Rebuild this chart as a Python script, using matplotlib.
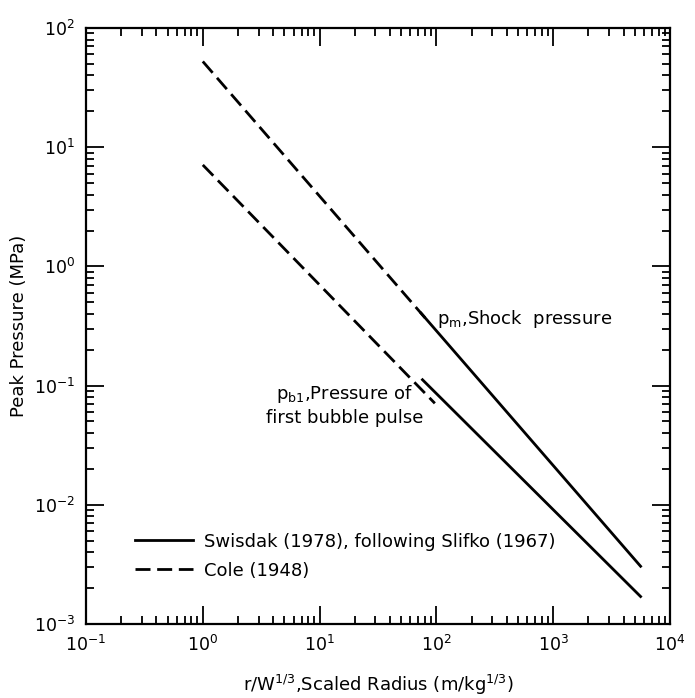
import matplotlib
matplotlib.use("Agg")
import matplotlib.pyplot as plt
from matplotlib.ticker import LogLocator, NullFormatter

plt.rcParams['font.family'] = ['DejaVu Sans']
plt.rcParams['axes.unicode_minus'] = False

# scaled radius r/W^(1/3) [m/kg^(1/3)] and peak pressure [MPa]
shock_cole_r = [1.0, 80.0]
shock_cole_p = [52.4, 0.37]
shock_swisdak_r = [74.0, 5600.0]
shock_swisdak_p = [0.405, 0.00305]

bubble_cole_r = [1.0, 97.0]
bubble_cole_p = [7.1, 0.071]
bubble_swisdak_r = [76.0, 5600.0]
bubble_swisdak_p = [0.112, 0.0017]

legend_labels = ["Swisdak (1978), following Slifko (1967)", "Cole (1948)"]

fig = plt.figure(figsize=(6.95, 6.98), dpi=100)
ax = fig.add_axes([86/695, 1 - 624/698, 584/695, 596/698])

dash = (5.4, 2.4)
lw = 2.0
l1, = ax.plot(shock_swisdak_r, shock_swisdak_p, color='black', lw=lw)
ax.plot(bubble_swisdak_r, bubble_swisdak_p, color='black', lw=lw)
l2, = ax.plot(shock_cole_r, shock_cole_p, color='black', lw=lw, dashes=dash)
ax.plot(bubble_cole_r, bubble_cole_p, color='black', lw=lw, dashes=dash)

ax.set_xscale('log')
ax.set_yscale('log')
ax.set_xlim(0.1, 1e4)
ax.set_ylim(1e-3, 1e2)

for a in (ax.xaxis, ax.yaxis):
    a.set_major_locator(LogLocator(base=10, numticks=12))
    a.set_minor_locator(LogLocator(base=10, subs=range(2, 10), numticks=12))
    a.set_minor_formatter(NullFormatter())

ax.tick_params(which='both', direction='in', top=True, right=True, width=1.3)
ax.tick_params(which='major', length=13, labelsize=12.5, pad=8)
ax.tick_params(which='minor', length=6)
for s in ax.spines.values():
    s.set_linewidth(1.6)

ax.set_xlabel(r"r/W$^{1/3}$,Scaled Radius (m/kg$^{1/3}$)", fontsize=13)
ax.set_ylabel("Peak Pressure (MPa)", fontsize=13)
ax.xaxis.set_label_coords(0.5, -0.082)
ax.yaxis.set_label_coords(-0.1, 0.5)

ax.text(0.601, 0.512, r"p$_{\rm m}$,Shock  pressure", transform=ax.transAxes,
        fontsize=13, ha='left', va='center')
ax.text(0.443, 0.368, "p$_{\\rm b1}$,Pressure of\nfirst bubble pulse", transform=ax.transAxes,
        fontsize=13, ha='center', va='center', multialignment='center', linespacing=1.3)

ax.legend([l1, l2], legend_labels, loc='upper left', bbox_to_anchor=(0.084, 0.153),
          frameon=False, fontsize=13, borderpad=0, borderaxespad=0,
          handlelength=3.2, handletextpad=0.6, labelspacing=0.6)

fig.savefig("out.png", dpi=100)
